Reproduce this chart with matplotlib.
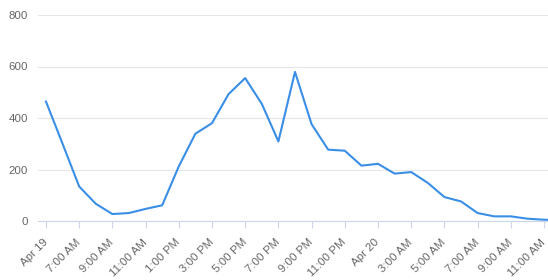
import matplotlib
matplotlib.use("Agg")
import matplotlib.pyplot as plt

# Hourly counts, starting at the "Apr 19" tick
hours = list(range(32))
counts = [464, 300, 134, 67, 27, 31, 47, 61, 212, 339, 380, 493, 555, 455,
          309, 579, 376, 277, 273, 215, 222, 184, 190, 148, 93, 76, 31, 18,
          18, 9, 5, 3]

tick_hours = list(range(0, 31, 2))
tick_labels = ["Apr 19", "7:00 AM", "9:00 AM", "11:00 AM", "1:00 PM", "3:00 PM",
               "5:00 PM", "7:00 PM", "9:00 PM", "11:00 PM", "Apr 20", "3:00 AM",
               "5:00 AM", "7:00 AM", "9:00 AM", "11:00 AM"]
y_ticks = [0, 200, 400, 600, 800]

plt.rcParams['font.family'] = ['Liberation Sans', 'DejaVu Sans']

fig = plt.figure(figsize=(5.48, 2.80), dpi=100)
ax = fig.add_axes([38 / 548, 59 / 280, 510 / 548, 206 / 280])

# Plot area
ax.set_xlim(-0.48, 30.24)
ax.set_ylim(0, 800)
for s in ['top', 'right', 'left']:
    ax.spines[s].set_visible(False)
ax.spines['bottom'].set_color('#ccd6eb')
ax.spines['bottom'].set_linewidth(0.8)

# Grid lines
ax.set_yticks(y_ticks)
ax.yaxis.grid(True, color='#e6e6e6', linewidth=0.8)
ax.set_axisbelow(True)

# The series
ax.plot(hours, counts, color='#3a8ee6', linewidth=1.5, solid_joinstyle='round')

# Ticks
ax.set_xticks(tick_hours)
ax.set_xticklabels(tick_labels, rotation=45, ha='right', va='center',
                   rotation_mode='anchor')
ax.tick_params(axis='x', length=5, width=0.8, color='#ccd6eb', pad=9,
               labelsize=8.25, labelcolor='#666666')
ax.tick_params(axis='y', length=0, pad=7, labelsize=8.25, labelcolor='#666666')

fig.savefig('out.png', dpi=100)
